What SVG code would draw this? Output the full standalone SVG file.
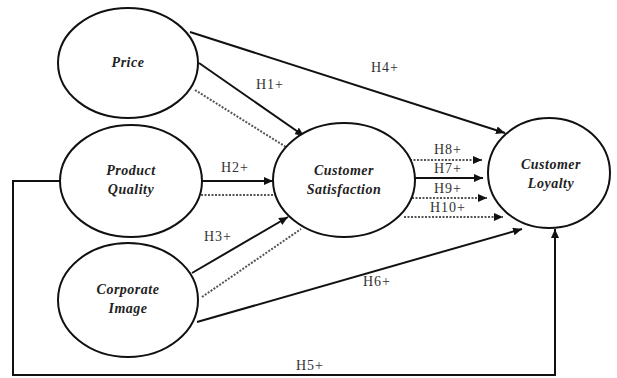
<svg xmlns="http://www.w3.org/2000/svg" width="617" height="378" viewBox="0 0 617 378">
<defs>
<marker id="arr" markerUnits="userSpaceOnUse" markerWidth="10" markerHeight="8" refX="9" refY="4" orient="auto">
<path d="M0,0 L9,4 L0,8 Z" fill="#111"/>
</marker>
<style>
.node{fill:#fff;stroke:#111;stroke-width:2}
.nt{font-family:"Liberation Serif",serif;font-style:italic;font-weight:bold;font-size:14px;fill:#222;text-anchor:middle;letter-spacing:0.5px}
.lb{font-family:"Liberation Serif",serif;font-size:14px;fill:#333;text-anchor:middle;letter-spacing:1px}
.s{fill:none;stroke:#111;stroke-width:2}
.d{fill:none;stroke:#555;stroke-width:2;stroke-dasharray:2 1.5}
</style>
</defs>
<rect width="617" height="378" fill="#fff"/>
<g id="connectors">
<path class="s" d="M190,32 L505,133" marker-end="url(#arr)"/>
<path class="s" d="M199,63 L304,136" marker-end="url(#arr)"/>
<path class="d" d="M195,90 L286,147"/>
<path class="s" d="M201,181 L273,181" marker-end="url(#arr)"/>
<path class="d" d="M201,195 L275,195"/>
<path class="s" d="M192,273 L288,217" marker-end="url(#arr)"/>
<path class="d" d="M202,297 L301,229"/>
<path class="s" d="M197,322 L522,229" marker-end="url(#arr)"/>
<path class="s" d="M60,181 L13,181 L13,375 L555,375 L555,229" marker-end="url(#arr)"/>
<path class="d" d="M410,160 L482,160" marker-end="url(#arr)"/>
<path class="s" d="M415,178 L483,178" marker-end="url(#arr)"/>
<path class="d" d="M412,198 L487,198" marker-end="url(#arr)"/>
<path class="d" d="M404,217 L503,217" marker-end="url(#arr)"/>
</g>
<g id="labels">
<text class="lb" x="385" y="72">H4+</text>
<text class="lb" x="270" y="89">H1+</text>
<text class="lb" x="235" y="172">H2+</text>
<text class="lb" x="218" y="241">H3+</text>
<text class="lb" x="377" y="286">H6+</text>
<text class="lb" x="310" y="370">H5+</text>
<text class="lb" x="448" y="154">H8+</text>
<text class="lb" x="448" y="173">H7+</text>
<text class="lb" x="448" y="193">H9+</text>
<text class="lb" x="448" y="212">H10+</text>
</g>
<g id="price">
<ellipse class="node" cx="128" cy="63" rx="70" ry="55"/>
<text class="nt" x="128" y="67">Price</text>
</g>
<g id="product-quality">
<ellipse class="node" cx="131" cy="181" rx="71" ry="56"/>
<text class="nt" x="131" y="175">Product</text>
<text class="nt" x="131" y="194">Quality</text>
</g>
<g id="corporate-image">
<ellipse class="node" cx="128" cy="300" rx="70" ry="57"/>
<text class="nt" x="128" y="294">Corporate</text>
<text class="nt" x="128" y="313">Image</text>
</g>
<g id="customer-satisfaction">
<ellipse class="node" cx="344" cy="180" rx="71" ry="57"/>
<text class="nt" x="344" y="175">Customer</text>
<text class="nt" x="344" y="194">Satisfaction</text>
</g>
<g id="customer-loyalty">
<ellipse class="node" cx="549" cy="173" rx="61" ry="55"/>
<text class="nt" x="551" y="169">Customer</text>
<text class="nt" x="551" y="188">Loyalty</text>
</g>
</svg>
